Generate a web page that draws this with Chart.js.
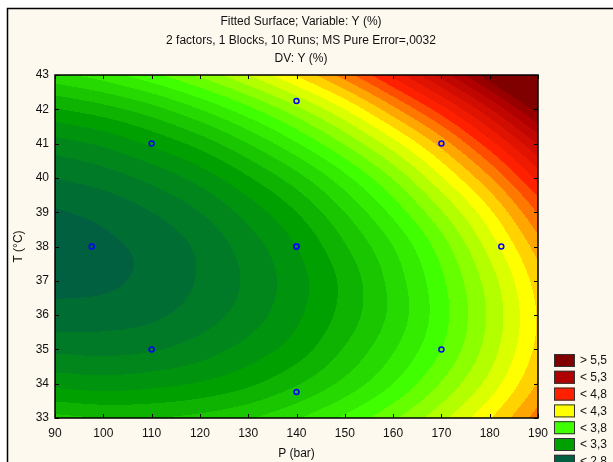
<!DOCTYPE html>
<html>
<head>
<meta charset="utf-8">
<script src="https://cdn.jsdelivr.net/npm/chart.js@4.4.1/dist/chart.umd.min.js"></script>
<style>
  html, body { margin: 0; padding: 0; background: #fff; }
  #wrap { width: 613px; height: 462px; position: relative; }
</style>
</head>
<body>
<div id="wrap"><canvas id="myChart" width="613" height="462"></canvas></div>
<script>
// fitted surface (rows = T, cols = P)
const pGrid = [90, 100, 110, 120, 130, 140, 150, 160, 170, 180, 190];
const tGrid = [33, 34, 35, 36, 37, 38, 39, 40, 41, 42, 43];
const yGrid = [
  [3.43, 3.40, 3.40, 3.43, 3.49, 3.59, 3.72, 3.88, 4.07, 4.29, 4.55],
  [3.17, 3.15, 3.17, 3.21, 3.28, 3.39, 3.53, 3.70, 3.91, 4.14, 4.41],
  [2.98, 2.97, 2.99, 3.05, 3.14, 3.25, 3.41, 3.59, 3.80, 4.05, 4.33],
  [2.84, 2.85, 2.88, 2.95, 3.05, 3.18, 3.34, 3.53, 3.76, 4.02, 4.31],
  [2.77, 2.78, 2.83, 2.91, 3.02, 3.16, 3.33, 3.54, 3.78, 4.05, 4.35],
  [2.75, 2.78, 2.83, 2.92, 3.05, 3.20, 3.39, 3.60, 3.85, 4.14, 4.45],
  [2.79, 2.83, 2.90, 3.00, 3.14, 3.30, 3.50, 3.73, 3.99, 4.28, 4.61],
  [2.90, 2.95, 3.03, 3.14, 3.29, 3.46, 3.67, 3.91, 4.19, 4.49, 4.83],
  [3.06, 3.12, 3.22, 3.34, 3.50, 3.69, 3.91, 4.16, 4.44, 4.76, 5.11],
  [3.29, 3.36, 3.46, 3.60, 3.77, 3.97, 4.20, 4.47, 4.76, 5.09, 5.45],
  [3.57, 3.65, 3.77, 3.92, 4.10, 4.31, 4.55, 4.83, 5.14, 5.48, 5.85],
];

// design runs (blue circles)
const runP = [110, 110, 170, 170, 97.6, 182.4, 140, 140, 140, 140];
const runT = [35, 41, 35, 41, 38, 38, 33.76, 42.24, 38, 38];

// legend levels and colours
const levels = [2.8, 3.3, 3.8, 4.3, 4.8, 5.3, 5.5];
const levelColors = ["#006040", "#00a000", "#40ff00", "#ffff00", "#ff2000", "#b00000", "#800000"];
const legendLabels = ["> 5,5", "< 5,3", "< 4,8", "< 4,3", "< 3,8", "< 3,3", "< 2,8"];
const bandStep = 0.1;

const titleLines = [
  "Fitted Surface; Variable: Y (%)",
  "2 factors, 1 Blocks, 10 Runs; MS Pure Error=,0032",
  "DV: Y (%)",
];

const FONT = "'Liberation Sans', Arial, sans-serif";

function hexRgb(h) {
  return [parseInt(h.slice(1, 3), 16), parseInt(h.slice(3, 5), 16), parseInt(h.slice(5, 7), 16)];
}
const levelRgb = levelColors.map(hexRgb);

function paletteAt(v) {
  if (v <= levels[0]) return levelRgb[0];
  for (let i = 1; i < levels.length; i++) {
    if (v <= levels[i]) {
      const f = (v - levels[i - 1]) / (levels[i] - levels[i - 1]);
      const a = levelRgb[i - 1], b = levelRgb[i];
      return [0, 1, 2].map(k => Math.round(a[k] + (b[k] - a[k]) * f));
    }
  }
  return levelRgb[levels.length - 1];
}

function bandColor(v) {
  const top = Math.ceil(v / bandStep - 1e-9) * bandStep;
  return paletteAt(top);
}

// grid value with linear extension past the edges
function node(j, i) {
  const nj = tGrid.length, ni = pGrid.length;
  if (i < 0) return 2 * node(j, 0) - node(j, 1);
  if (i >= ni) return 2 * node(j, ni - 1) - node(j, ni - 2);
  if (j < 0) return 2 * node(0, i) - node(1, i);
  if (j >= nj) return 2 * node(nj - 1, i) - node(nj - 2, i);
  return yGrid[j][i];
}

function cubic(p0, p1, p2, p3, t) {
  return p1 + 0.5 * t * (p2 - p0 + t * (2 * p0 - 5 * p1 + 4 * p2 - p3 + t * (3 * (p1 - p2) + p3 - p0)));
}

function findCell(arr, v) {
  let i = 0;
  while (i < arr.length - 2 && v > arr[i + 1]) i++;
  const f = (v - arr[i]) / (arr[i + 1] - arr[i]);
  return [i, Math.max(0, Math.min(1, f))];
}

function surfaceAt(p, t) {
  const [i, fx] = findCell(pGrid, p);
  const [j, fy] = findCell(tGrid, t);
  const rows = [];
  for (let dj = -1; dj <= 2; dj++) {
    rows.push(cubic(node(j + dj, i - 1), node(j + dj, i), node(j + dj, i + 1), node(j + dj, i + 2), fx));
  }
  return cubic(rows[0], rows[1], rows[2], rows[3], fy);
}

// page frame + title
const framePlugin = {
  id: "frame",
  beforeDraw(chart) {
    const ctx = chart.ctx;
    ctx.save();
    ctx.fillStyle = "#ffffff";
    ctx.fillRect(0, 0, chart.width, chart.height);
    ctx.fillStyle = "#fdf9ef";
    ctx.fillRect(8, 9, chart.width - 8, chart.height - 9);
    ctx.strokeStyle = "#000";
    ctx.lineWidth = 1.5;
    ctx.beginPath();
    ctx.moveTo(7.5, chart.height);
    ctx.lineTo(7.5, 8.5);
    ctx.lineTo(chart.width, 8.5);
    ctx.stroke();
    ctx.fillStyle = "#111";
    ctx.font = "12px " + FONT;
    ctx.textAlign = "center";
    ctx.textBaseline = "middle";
    const ty = [22, 41, 59];
    titleLines.forEach((s, i) => ctx.fillText(s, 301, ty[i]));
    ctx.restore();
  },
};

// filled contour bands from the grid
const contourPlugin = {
  id: "contour",
  beforeDatasetsDraw(chart) {
    const { ctx, chartArea: a, scales } = chart;
    const x = scales.x, y = scales.y;
    const w = Math.round(a.right - a.left), h = Math.round(a.bottom - a.top);
    const off = document.createElement("canvas");
    off.width = w; off.height = h;
    const octx = off.getContext("2d");
    const img = octx.createImageData(w, h);
    for (let py = 0; py < h; py++) {
      const t = y.getValueForPixel(a.top + py + 0.5);
      for (let px = 0; px < w; px++) {
        const p = x.getValueForPixel(a.left + px + 0.5);
        const c = bandColor(surfaceAt(p, t));
        const k = (py * w + px) * 4;
        img.data[k] = c[0]; img.data[k + 1] = c[1]; img.data[k + 2] = c[2]; img.data[k + 3] = 255;
      }
    }
    octx.putImageData(img, 0, 0);
    ctx.drawImage(off, Math.round(a.left), Math.round(a.top));
  },
  afterDatasetsDraw(chart) {
    const { ctx, chartArea: a, scales } = chart;
    ctx.save();
    ctx.strokeStyle = "#000";
    ctx.lineWidth = 1.5;
    ctx.strokeRect(a.left, a.top, a.right - a.left, a.bottom - a.top);
    ctx.lineWidth = 1;
    ctx.beginPath();
    scales.x.ticks.forEach(tk => {
      const px = Math.round(scales.x.getPixelForValue(tk.value)) + 0.5;
      ctx.moveTo(px, a.top); ctx.lineTo(px, a.top + 4);
      ctx.moveTo(px, a.bottom); ctx.lineTo(px, a.bottom - 4);
    });
    scales.y.ticks.forEach(tk => {
      const py = Math.round(scales.y.getPixelForValue(tk.value)) + 0.5;
      ctx.moveTo(a.left, py); ctx.lineTo(a.left + 4, py);
      ctx.moveTo(a.right, py); ctx.lineTo(a.right - 4, py);
    });
    ctx.stroke();

    // legend
    ctx.font = "12px " + FONT;
    ctx.textAlign = "left";
    ctx.textBaseline = "middle";
    const legColors = levelColors.slice().reverse();
    legendLabels.forEach((lab, i) => {
      const top = 354 + i * 16.8;
      ctx.fillStyle = legColors[i];
      ctx.fillRect(554, top, 21, 13);
      ctx.strokeStyle = "#333";
      ctx.strokeRect(554.5, top + 0.5, 20, 12);
      ctx.fillStyle = "#111";
      ctx.fillText(lab, 580, top + 7);
    });
    ctx.restore();
  },
};

const points = runP.map((p, i) => ({ x: p, y: runT[i] }));

const config = {
  type: "scatter",
  data: {
    datasets: [
      {
        label: "Runs",
        data: points,
        pointStyle: "circle",
        pointRadius: 2.5,
        borderColor: "#0000ff",
        backgroundColor: "rgba(0,0,0,0)",
        borderWidth: 1.5,
      },
    ],
  },
  options: {
    responsive: false,
    animation: false,
    layout: { padding: { left: 0, right: 75, top: 75, bottom: 0 } },
    scales: {
      x: {
        type: "linear",
        min: 90,
        max: 190,
        afterFit: s => { s.height = 44; },
        grid: { display: false, drawTicks: false },
        border: { display: false },
        ticks: { stepSize: 10, autoSkip: false, maxRotation: 0, padding: 8, color: "#111", font: { family: FONT, size: 12 } },
        title: { display: true, text: "P (bar)", color: "#111", padding: { top: 0, bottom: 1 }, font: { family: FONT, size: 12 } },
      },
      y: {
        type: "linear",
        min: 33,
        max: 43,
        afterFit: s => { s.width = 55; },
        grid: { display: false, drawTicks: false },
        border: { display: false },
        ticks: { stepSize: 1, autoSkip: false, padding: 6, color: "#111", font: { family: FONT, size: 12 } },
        title: { display: true, text: "T (°C)", color: "#111", padding: { top: 11, bottom: 0 }, font: { family: FONT, size: 12 } },
      },
    },
    plugins: {
      legend: { display: false },
      tooltip: { enabled: false },
    },
  },
  plugins: [framePlugin, contourPlugin],
};

const myChart = new Chart(document.getElementById("myChart"), config);
</script>
</body>
</html>
